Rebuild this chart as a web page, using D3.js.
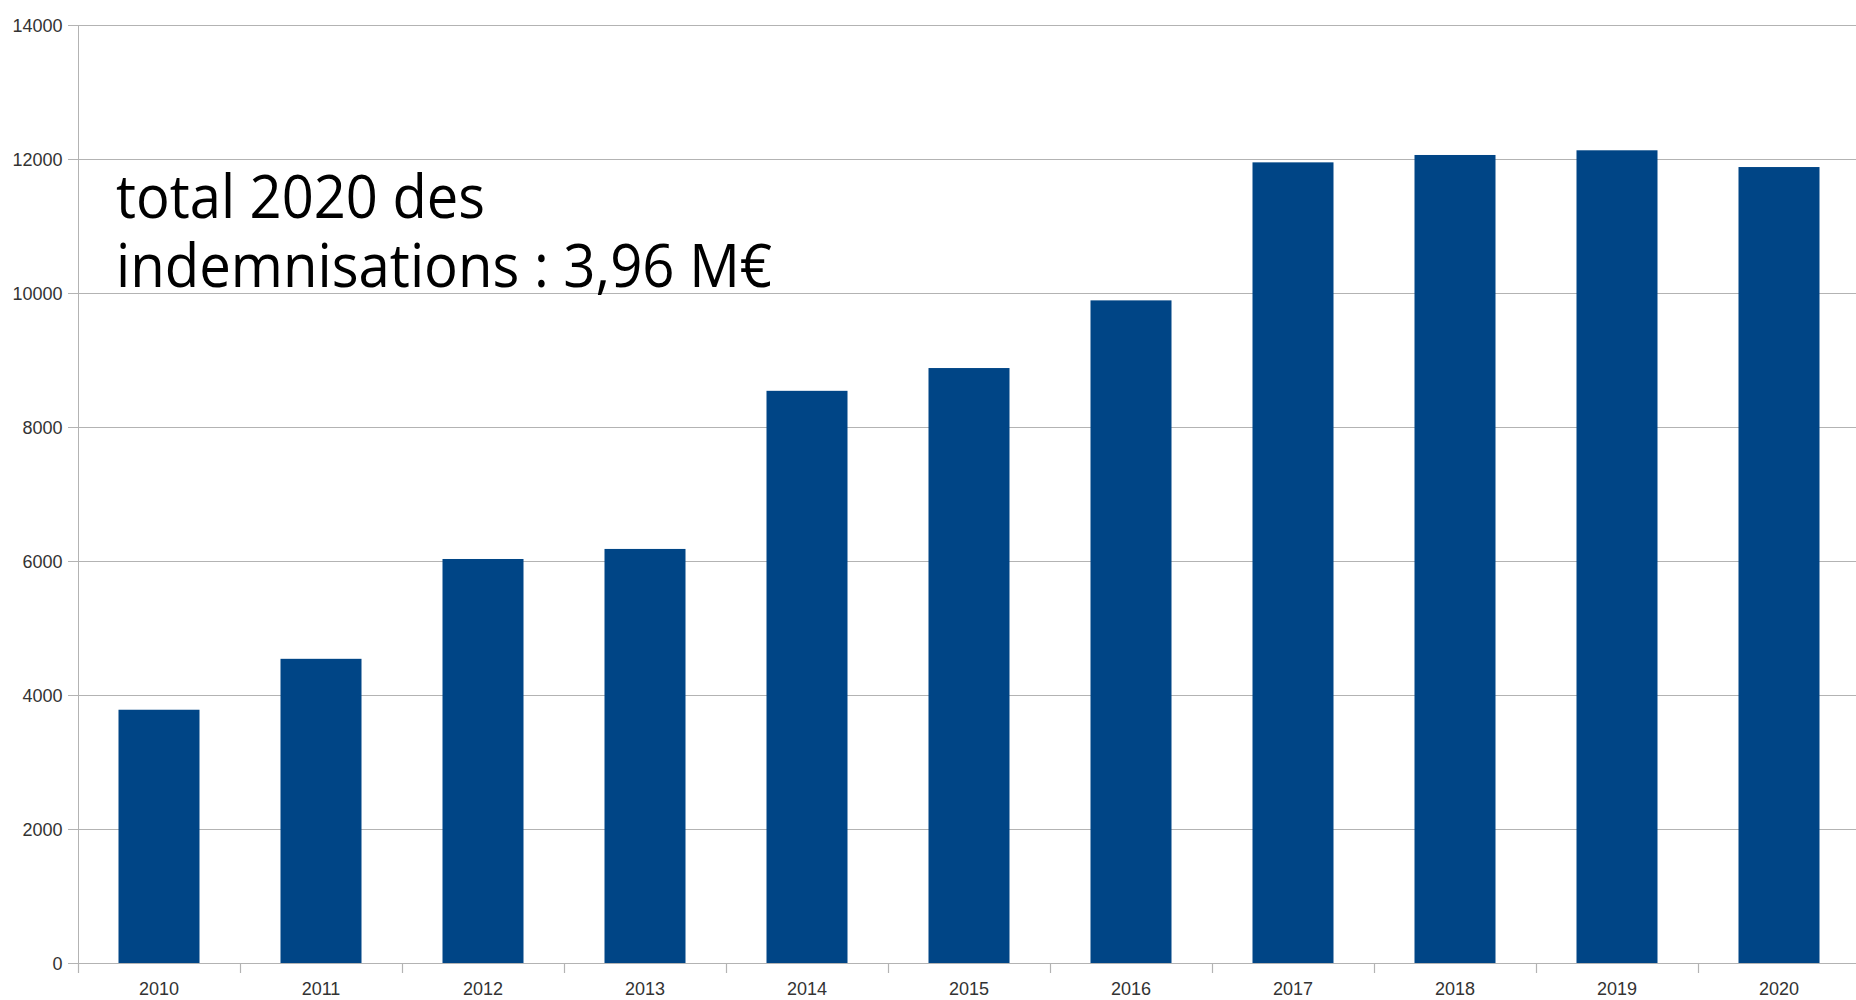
<!DOCTYPE html>
<html>
<head>
<meta charset="utf-8">
<script src="https://cdn.jsdelivr.net/npm/d3@7"></script>
<style>
  html, body { margin: 0; padding: 0; background: #fff; }
  svg { display: block; }
  .tick text { font-family: "Liberation Sans", Arial, sans-serif; font-size: 18px; fill: #333; }
</style>
</head>
<body>
<div id="container"></div>
<script>
const years = ["2010", "2011", "2012", "2013", "2014", "2015", "2016", "2017", "2018", "2019", "2020"];
const values = [3780, 4540, 6030, 6180, 8540, 8880, 9890, 11950, 12060, 12130, 11880];
const yTicks = [0, 2000, 4000, 6000, 8000, 10000, 12000, 14000];
const noteLines = ["total 2020 des", "indemnisations : 3,96 M€"];

const w = 1856;
const h = 1000;
const plotLeft = 78;
const plotRight = 1860;
const plotTop = 25;
const plotBottom = 963;

const svg = d3.
select("#container").
append("svg").
attr("width", w).
attr("height", h);

const xScale = d3.
scaleBand().
domain(years).
range([plotLeft, plotRight]).
paddingInner(0.5).
paddingOuter(0.25);

const yScale = d3.
scaleLinear().
domain([0, 14000]).
range([plotBottom, plotTop]);

// horizontal grid lines (0 is the baseline)
svg.
append("g").
selectAll("line").
data(yTicks).
enter().
append("line").
attr("x1", plotLeft - 10).
attr("x2", w).
attr("y1", d => Math.round(yScale(d)) + 0.5).
attr("y2", d => Math.round(yScale(d)) + 0.5).
attr("stroke", "#b3b3b3").
attr("stroke-width", 1.2);

// y axis
const yAxis = d3.axisLeft(yScale).
tickValues(yTicks).
tickFormat(d3.format("d")).
tickSize(10).
tickPadding(6).
tickSizeOuter(0);
const gy = svg.
append("g").
attr("transform", `translate(${plotLeft + 0.5}, 0)`).
call(yAxis);
gy.select(".domain").attr("stroke", "#b3b3b3").attr("d", `M0,${plotTop}V${plotBottom + 10}`);
gy.selectAll(".tick line").attr("stroke", "#b3b3b3");
gy.selectAll(".tick text").attr("dy", "0.35em");

// x axis ticks sit between categories
const step = xScale.step();
const boundaries = d3.range(years.length + 1).map(i => plotLeft + i * step);
svg.
append("g").
selectAll("line").
data(boundaries).
enter().
append("line").
attr("x1", d => Math.round(d) + 0.5).
attr("x2", d => Math.round(d) + 0.5).
attr("y1", plotBottom).
attr("y2", plotBottom + 10).
attr("stroke", "#b3b3b3").
attr("stroke-width", 1.2);

const xAxis = d3.axisBottom(xScale).tickSize(0).tickPadding(19);
const gx = svg.
append("g").
attr("transform", `translate(0, ${plotBottom})`).
call(xAxis);
gx.select(".domain").remove();

// bars
svg.
append("g").
selectAll("rect").
data(values).
enter().
append("rect").
attr("x", (d, i) => xScale(years[i])).
attr("y", d => yScale(d)).
attr("width", xScale.bandwidth()).
attr("height", d => yScale(0) - yScale(d)).
attr("fill", "#004586");

// annotation text, one block with a line per tspan
const noteWidths = [369, 656];
const note = svg.
append("text").
style("font-family", "'Open Sans', 'Noto Sans', sans-serif").
style("font-size", "60px").
style("fill", "#000");

note.
selectAll("tspan").
data(noteLines).
enter().
append("tspan").
attr("x", 116).
attr("y", (d, i) => 218 + i * 69).
attr("textLength", (d, i) => noteWidths[i]).
attr("lengthAdjust", "spacingAndGlyphs").
text(d => d);
</script>
</body>
</html>
